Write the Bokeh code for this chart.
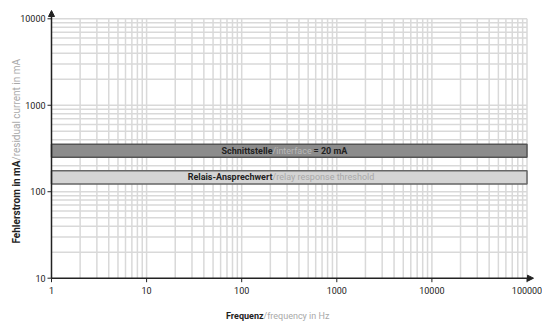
import math
from bokeh.plotting import figure
from bokeh.models import Range1d, Arrow, NormalHead
from bokeh.core.properties import value
from bokeh.embed import file_html
from bokeh.resources import INLINE

# ---- data ----
x_ticks = [1, 10, 100, 1000, 10000, 100000]
x_tick_labels = ["1", "10", "100", "1000", "10000", "100000"]
y_ticks = [10, 100, 1000, 10000]
y_tick_labels = ["10", "100", "1000", "10000"]
minor_mult = [2, 3, 4, 5, 6, 7, 8, 9]
interface_band = [250, 355]      # mA, "Schnittstelle/interface = 20 mA"
relay_band = [123, 175]          # mA, "Relais-Ansprechwert/relay response threshold"

x_grid = [m * d for d in x_ticks[:-1] for m in minor_mult] + x_ticks[1:]
y_grid = [m * d for d in y_ticks[:-1] for m in minor_mult] + y_ticks[1:]

# ---- layout (pixel geometry of the log frame) ----
W, H = 542, 324
X0_PX, XDEC = 51.0, 95.1      # px of x=1, px per decade
Y0_PX, YDEC = 277.7, 86.47    # px of y=10, px per decade

def xd(px):
    return 10 ** ((px - X0_PX) / XDEC)

def yd(py):
    return 10 ** (1 + (Y0_PX - py) / YDEC)

FONT = value("Roboto")
DARK = "#222222"
LIGHT = "#a8a8a8"
GRID = "#d9d9d9"

p = figure(width=W, height=H, x_axis_type="log", y_axis_type="log",
           x_range=Range1d(xd(0), xd(W)), y_range=Range1d(yd(H), yd(0)),
           min_border=0, output_backend="svg", toolbar_location=None)
p.outline_line_color = None
p.axis.visible = False
p.grid.visible = False
p.background_fill_color = "white"
p.border_fill_color = "white"

xmin, xmax = x_ticks[0], x_ticks[-1]
ymin, ymax = y_ticks[0], y_ticks[-1]

# grid
p.segment(x0=x_grid, x1=x_grid, y0=[ymin] * len(x_grid), y1=[ymax] * len(x_grid),
          line_color=GRID, line_width=1.5)
p.segment(x0=[xmin] * len(y_grid), x1=[xmax] * len(y_grid), y0=y_grid, y1=y_grid,
          line_color=GRID, line_width=1.5)

# bands
p.quad(left=[xmin], right=[xmax], bottom=[interface_band[0]], top=[interface_band[1]],
       fill_color="#8c8c8c", line_color="#555555", line_width=1.5)
p.quad(left=[xmin], right=[xmax], bottom=[relay_band[0]], top=[relay_band[1]],
       fill_color="#d4d4d4", line_color="#666666", line_width=1.5)

# axes with arrows
head = dict(size=6, fill_color=DARK, line_color=DARK)
p.add_layout(Arrow(end=NormalHead(**head), x_start=xmin, y_start=ymin, x_end=xd(533), y_end=ymin,
                   line_color=DARK, line_width=1.5))
p.add_layout(Arrow(end=NormalHead(**head), x_start=xmin, y_start=ymin, x_end=xmin, y_end=yd(10),
                   line_color=DARK, line_width=1.5))

# tick marks
p.segment(x0=[xd(X0_PX - 4)] * len(y_ticks), x1=[xmin] * len(y_ticks), y0=y_ticks, y1=y_ticks,
          line_color=DARK, line_width=1)
p.segment(x0=x_ticks, x1=x_ticks, y0=[yd(Y0_PX + 4)] * len(x_ticks), y1=[ymin] * len(x_ticks),
          line_color=DARK, line_width=1)

# tick labels
p.text(x=[xd(X0_PX - 6)] * len(y_ticks), y=y_ticks, text=y_tick_labels,
       text_align="right", text_baseline="middle", text_font=FONT,
       text_font_size="9px", text_color=DARK)
p.text(x=x_ticks, y=[yd(Y0_PX + 12)] * len(x_ticks), text=x_tick_labels,
       text_align="center", text_baseline="middle", text_font=FONT,
       text_font_size="9px", text_color=DARK)

def lab(x, y, text, color, align, bold=True, angle=0.0, size="9px"):
    p.text(x=[x], y=[y], text=[text], text_color=color, text_align=align,
           text_baseline="middle", text_font=FONT, text_font_size=size,
           text_font_style="bold" if bold else "normal", angle=angle)

# band texts
band_anchor = xd(272)
ci = math.sqrt(interface_band[0] * interface_band[1])
cr = math.sqrt(relay_band[0] * relay_band[1])
lab(band_anchor, ci, "Schnittstelle", DARK, "right")
lab(band_anchor, ci, "/interface", "#b8b8b8", "left", bold=False)
lab(xd(313), ci, "= 20 mA", DARK, "left")
lab(band_anchor, cr, "Relais-Ansprechwert", DARK, "right")
lab(band_anchor, cr, "/relay response threshold", LIGHT, "left", bold=False)

# axis titles
lab(xd(263), yd(315), "Frequenz", DARK, "right")
lab(xd(263), yd(315), "/frequency in Hz", LIGHT, "left", bold=False)
lab(xd(16), yd(160), "Fehlerstrom in mA", DARK, "right", angle=math.pi / 2, size="10px")
lab(xd(16), yd(160), "/residual current in mA", LIGHT, "left", bold=False,
    angle=math.pi / 2, size="10px")

open("out.html", "w").write(file_html(p, INLINE))
